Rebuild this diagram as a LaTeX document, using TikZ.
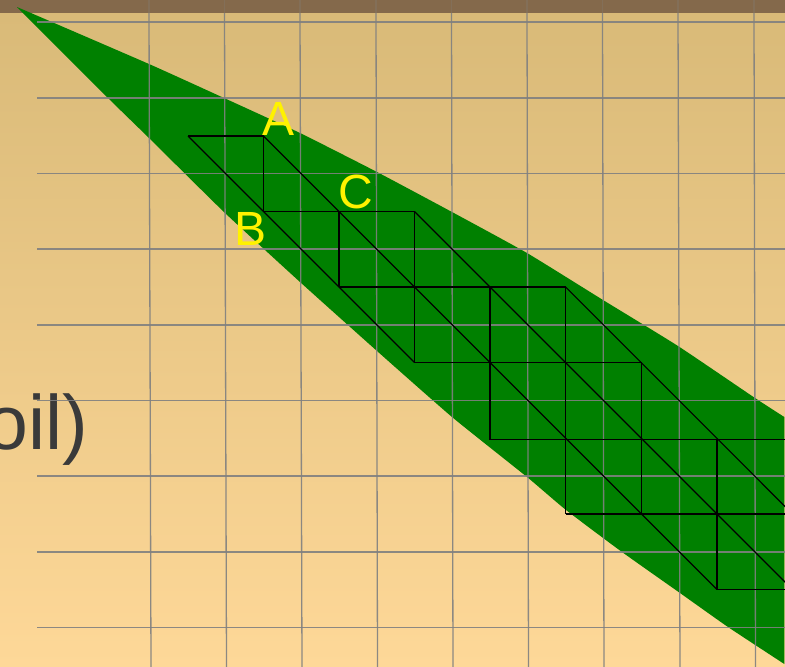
\documentclass[tikz,border=0pt]{standalone}
\usepackage{fontspec}
\setmainfont{Liberation Sans}
\definecolor{bgtop}{HTML}{D9BA78}
\definecolor{bgbot}{HTML}{FED898}
\definecolor{band}{HTML}{84694B}
\definecolor{leaf}{HTML}{008000}
\definecolor{gridc}{HTML}{808080}
\definecolor{txt}{HTML}{3A3A3A}
\tikzset{
  gridline/.style={draw=gridc,line width=1.3pt,opacity=.9},
  bandline/.style={draw=band!75!gridc,line width=1.3pt},
  meshline/.style={draw=black,line width=1.1pt},
  ptlabel/.style={text=yellow,font=\fontsize{48}{48}\selectfont,inner sep=0pt},
}
\begin{document}
\begin{tikzpicture}[x=1pt,y=-1pt]
\useasboundingbox (0,0) rectangle (785,667);
\clip (0,0) rectangle (785,667);
\shade[top color=bgtop,bottom color=bgbot] (0,13) rectangle (785,667);
\fill[band] (0,0) rectangle (785,13);
\node[anchor=base east,text=txt,font=\fontsize{77}{77}\selectfont,inner sep=0pt] (title) at (88.5,449) {oil)};
\fill[leaf] plot[smooth,tension=.3] coordinates {(17,7) (149,64) (224,98) (300,133) (377,172) (452,212) (527,253) (603,300) (678,346) (755,398) (784.3,417)}
  -- plot[smooth,tension=.3] coordinates {(784.3,664) (728,627) (680,593) (622,552) (566,510) (527,477) (452,417) (377,351) (300,282) (225,213) (149,138) (108,98) (17,7)} -- cycle;
\foreach \t/\b in {149/151,224.5/226.5,300/302,376/377.5,451.5/453,527/528.5,602.5/604,678/680,754/755.5}{
  \draw[bandline] (\t,0) -- (\t,13);
  \draw[gridline] (\t,13) -- (\b,667);
}
\foreach \y in {22,98,173.5,249,325,400.5,476,552,627.5}
  \draw[gridline] (37,\y) -- (785,\y);
\foreach \n/\x in {a/188,b/263.5,c/339,d/414.5,e/490,f/565.7,g/641.5,h/717,i/792.5}
  \foreach \m/\y in {1/136,2/211.5,3/287,4/362.5,5/439.5,6/514,7/589.5}
    \coordinate (\n\m) at (\x,\y);
\draw[meshline] (a1) -- (b1) (b2) -- (d2) (c3) -- (f3) (d4) -- (g4) (e5) -- (i5) (f6) -- (i6) (h7) -- (i7);
\draw[meshline] (b1) -- (b2) (c2) -- (c3) (d2) -- (d4) (e3) -- (e5) (f3) -- (f6) (g4) -- (g6) (h5) -- (h7);
\draw[meshline] (a1) -- (d4);
\draw[meshline] (b1) -- (h7);
\draw[meshline] (d2) -- (i7);
\draw[meshline] (f3) -- (i6);
\node[ptlabel] (lA) at (278.5,119) {A};
\node[ptlabel] (lB) at (250.5,229) {B};
\node[ptlabel] (lC) at (356,191.5) {C};
\end{tikzpicture}
\end{document}
